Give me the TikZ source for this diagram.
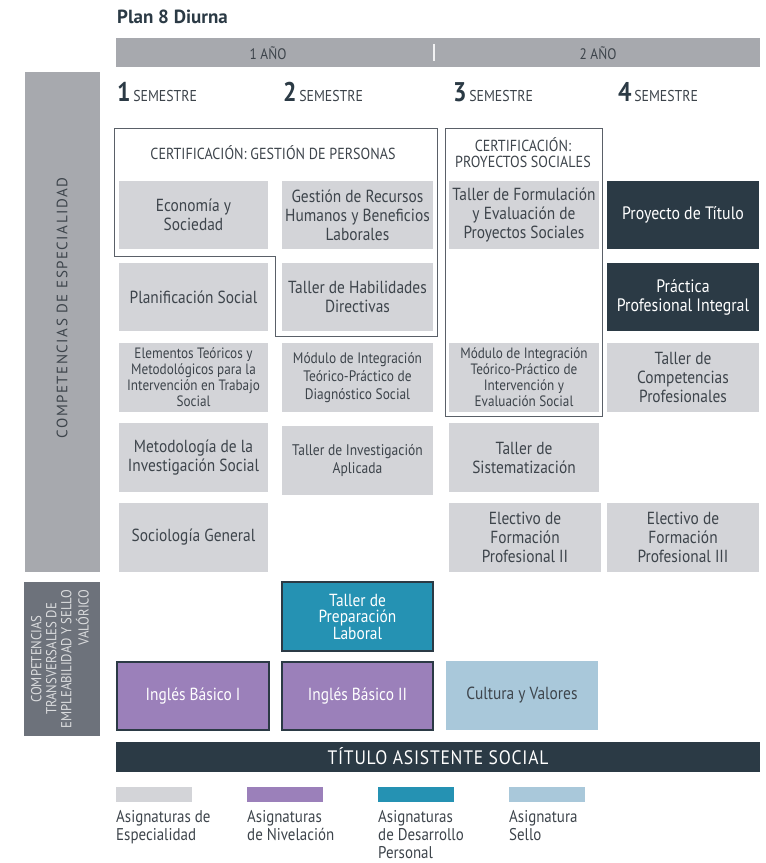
\documentclass[tikz,border=0pt]{standalone}
\usepackage{fontspec}
\setmainfont{PT Sans}[FakeStretch=0.88]
\newfontfamily\spacedfont{PT Sans}[LetterSpace=10]
\newfontfamily\barfont{PT Sans}[FakeStretch=0.9, LetterSpace=4]
\newfontfamily\planfont{PT Sans}
\definecolor{headgray}{HTML}{A7A9AE}
\definecolor{boxgray}{HTML}{D3D4D8}
\definecolor{darkbox}{HTML}{2B3A45}
\definecolor{tealbox}{HTML}{2592B3}
\definecolor{purplebox}{HTML}{9B80BA}
\definecolor{bluebox}{HTML}{A9C8DA}
\definecolor{sidegray}{HTML}{6D727B}
\definecolor{txt}{HTML}{3D444B}
\definecolor{certline}{HTML}{5A6068}
\newcommand{\fsz}[2]{\fontsize{#1}{#2}\selectfont}
\tikzset{
  course/.style={fill=boxgray, draw=none, text=txt, inner sep=0pt, align=center, font=\fsz{17.5}{19}},
  darkcourse/.style={course, fill=darkbox, text=white, font=\fsz{18}{19}},
  tealcourse/.style={course, fill=tealbox, draw=darkbox, line width=1.3pt, text=white, font=\fsz{17.5}{16.5}},
  purplecourse/.style={course, fill=purplebox, draw=darkbox, line width=1.3pt, text=white},
  bluecourse/.style={course, fill=bluebox},
  certframe/.style={draw=certline, line width=0.9pt},
  semlabel/.style={anchor=base west, inner sep=0pt, text=txt, font=\fsz{15.7}{17}},
  legtext/.style={anchor=north west, inner sep=0pt, align=left, text=txt, font=\fsz{17}{18}},
  swatch/.style={inner sep=0pt, minimum width=76pt, minimum height=15pt, anchor=north west}
}
\begin{document}
\begin{tikzpicture}[x=1pt,y=-1pt]
\useasboundingbox (0,0) rectangle (766,863);
% title
\node[anchor=west, inner sep=0pt, text=darkbox, font=\planfont\fsz{19}{20}\bfseries] (plan) at (117,17) {Plan 8 Diurna};
% year bar
\node[fill=headgray, inner sep=0pt, minimum width=644pt, minimum height=29pt, anchor=north west] (yearbar) at (116,38) {};
\draw[white!85!headgray, line width=1.2pt] (434,44) -- (434,61);
\node[text=txt, font=\fsz{15.2}{16}] (y1) at (268,53) {1 AÑO};
\node[text=txt, font=\fsz{15.2}{16}] (y2) at (598,53) {2 AÑO};
% semesters
\node[semlabel] (s1) at (117,101) {{\color{darkbox}\fsz{27}{27}\bfseries 1}\,SEMESTRE};
\node[semlabel] (s2) at (283,101) {{\color{darkbox}\fsz{27}{27}\bfseries 2}\,SEMESTRE};
\node[semlabel] (s3) at (453,101) {{\color{darkbox}\fsz{27}{27}\bfseries 3}\,SEMESTRE};
\node[semlabel] (s4) at (618,101) {{\color{darkbox}\fsz{27}{27}\bfseries 4}\,SEMESTRE};
% left bars
\node[fill=headgray, inner sep=0pt, minimum width=75pt, minimum height=500pt, anchor=north west] (esp) at (25,72) {};
\node[rotate=90, text=txt, font=\spacedfont\fsz{15}{17}] (esptxt) at (62,308) {COMPETENCIAS DE ESPECIALIDAD};
\node[fill=sidegray, inner sep=0pt, minimum width=76pt, minimum height=154pt, anchor=north west] (trans) at (24,582) {};
\node[rotate=90, text=white!75!sidegray, font=\fsz{14.5}{15}, inner sep=0pt] (transtxt) at (62,659)
  {\begin{tabular}{@{}c@{}}COMPETENCIAS\\TRANSVERSALES DE\\EMPLEABILIDAD Y SELLO\\\multicolumn{1}{@{}r@{}}{VALÓRICO}\end{tabular}};
% certification frames
\draw[certframe] (114,128) -- (437,128) -- (437,336) -- (275,336) -- (275,256) -- (114,256) -- cycle;
\draw[certframe] (445,128) rectangle (602,416);
\node[text=txt, font=\fsz{16}{16}] (cert1) at (273,153) {CERTIFICACIÓN: GESTIÓN DE PERSONAS};
\node[text=txt, font=\fsz{16}{16}, align=center] (cert2) at (523,153) {CERTIFICACIÓN:\\PROYECTOS SOCIALES};
% column 1
\node[course, minimum width=149pt, minimum height=68pt] (eco) at (193.5,215) {Economía y\\Sociedad};
\node[course, minimum width=149pt, minimum height=68pt] (plani) at (193.5,297) {Planificación Social};
\node[course, minimum width=149pt, minimum height=69pt, font=\fsz{15}{16}] (elem) at (193.5,377.5) {Elementos Teóricos y\\Metodológicos para la\\Intervención en Trabajo\\Social};
\node[course, minimum width=149pt, minimum height=69pt] (metod) at (193.5,457.5) {Metodología de la\\Investigación Social};
\node[course, minimum width=149pt, minimum height=69pt] (socio) at (193.5,537.5) {Sociología General};
% column 2
\node[course, minimum width=151pt, minimum height=68pt] (gest) at (357.5,215) {Gestión de Recursos\\Humanos y Beneficios\\Laborales};
\node[course, minimum width=151pt, minimum height=68pt] (habil) at (357.5,297) {Taller de Habilidades\\Directivas};
\node[course, minimum width=151pt, minimum height=69pt, font=\fsz{15.2}{18}] (mod1) at (357.5,377.5) {Módulo de Integración\\Teórico-Práctico de\\Diagnóstico Social};
\node[course, minimum width=151pt, minimum height=69pt, font=\fsz{15.4}{18}] (invest) at (357.5,460.5) {Taller de Investigación\\Aplicada};
% column 3
\node[course, minimum width=150pt, minimum height=68pt] (formu) at (524,215) {Taller de Formulación\\y Evaluación de\\Proyectos Sociales};
\node[course, minimum width=150pt, minimum height=69pt, font=\fsz{15}{16}] (mod2) at (524,377.5) {Módulo de Integración\\Teórico-Práctico de\\Intervención y\\Evaluación Social};
\node[course, minimum width=150pt, minimum height=69pt] (siste) at (524,457.5) {Taller de\\Sistematización};
\node[course, minimum width=152pt, minimum height=69pt] (elec2) at (525,537.5) {Electivo de\\Formación\\Profesional II};
% column 4
\node[darkcourse, minimum width=152pt, minimum height=68pt] (proy) at (683,215) {Proyecto de Título};
\node[darkcourse, minimum width=152pt, minimum height=68pt] (pract) at (683,297) {Práctica\\Profesional Integral};
\node[course, minimum width=152pt, minimum height=69pt] (compet) at (683,377.5) {Taller de\\Competencias\\Profesionales};
\node[course, minimum width=152pt, minimum height=69pt] (elec3) at (683,537.5) {Electivo de\\Formación\\Profesional III};
% transversal
\node[tealcourse, minimum width=151pt, minimum height=69pt] (prep) at (357.5,616.5) {Taller de\\Preparación\\Laboral};
\node[purplecourse, minimum width=152pt, minimum height=68pt] (ing1) at (193,696) {Inglés Básico I};
\node[purplecourse, minimum width=151pt, minimum height=68pt] (ing2) at (357.5,696) {Inglés Básico II};
\node[bluecourse, minimum width=152pt, minimum height=69pt] (cult) at (522,695.5) {Cultura y Valores};
% title bar
\node[fill=darkbox, text=white, inner sep=0pt, minimum width=644pt, minimum height=30pt, font=\barfont\fsz{19.5}{20}] (titulo) at (438,756.5) {TÍTULO ASISTENTE SOCIAL};
% legend
\node[swatch, fill=boxgray] (l1) at (116,787) {};
\node[swatch, fill=purplebox] (l2) at (247,787) {};
\node[swatch, fill=tealbox] (l3) at (378,787) {};
\node[swatch, fill=bluebox] (l4) at (509,787) {};
\node[legtext] (t1) at (116,810) {Asignaturas de\\Especialidad};
\node[legtext] (t2) at (247,810) {Asignaturas\\de Nivelación};
\node[legtext] (t3) at (378,810) {Asignaturas\\de Desarrollo\\Personal};
\node[legtext] (t4) at (509,810) {Asignatura\\Sello};
\end{tikzpicture}
\end{document}
